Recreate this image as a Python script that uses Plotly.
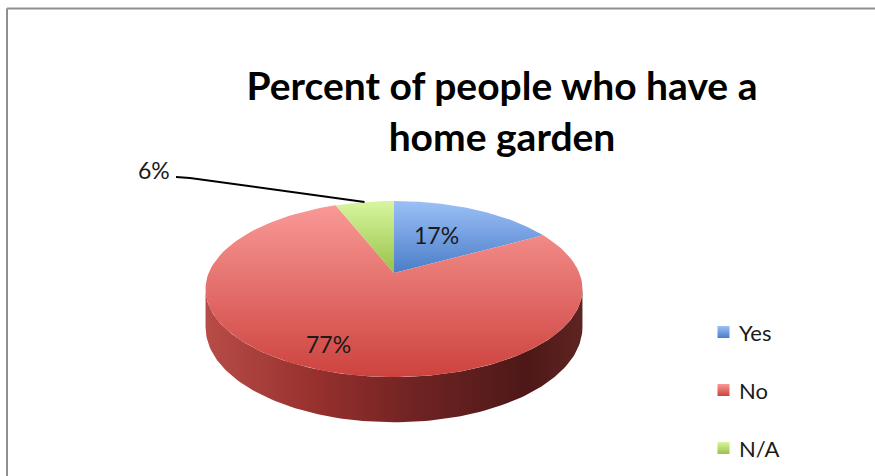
import math
import plotly.graph_objects as go

# Survey result
categories = ["Yes", "No", "N/A"]
percents = [17, 77, 6]

# Slice styling: vertical gradients for the top faces (light at top, deeper at bottom)
top_colors = {
    "Yes": ("#9cc0f6", "#4a7dc9"),
    "No": ("#f99996", "#cd423e"),
    "N/A": ("#d8f6a0", "#98c248"),
}
side_scale = [[0.0, "#b84c47"], [0.3, "#95302d"], [0.55, "#712323"],
              [0.85, "#4e1818"], [1.0, "#5e2420"]]

W, H = 875, 476
# Projected disc: centre, semi-axes, perspective factor and wall height
CX, CY = 394.0, 273.0
A, B, K = 185.3, 85.1, 0.182
DEPTH = 37.0


def proj(theta_deg, r=1.0, drop=0.0):
    """Map an angle (clockwise from the back of the disc) to screen coords."""
    t = math.radians(theta_deg)
    u, v = r * math.sin(t), r * math.cos(t)
    w = 1.0 + K * v
    return CX + A * u / w, CY - B * v / w + drop / w


def arc(a0, a1, drop=0.0, n=120):
    pts = [proj(a0 + (a1 - a0) * i / n, 1.0, drop) for i in range(n + 1)]
    return [p[0] for p in pts], [p[1] for p in pts]


fig = go.Figure()

# Visible outer wall (front half of the disc, between the silhouette points)
t_edge = math.degrees(math.acos(-K))
xs_top, ys_top = arc(t_edge, 360 - t_edge)
xs_bot, ys_bot = arc(360 - t_edge, t_edge, DEPTH)
side_x = xs_top + xs_bot + [xs_top[0]]
side_y = ys_top + ys_bot + [ys_top[0]]
fig.add_trace(go.Scatter(
    x=side_x, y=side_y, mode="lines", fill="toself", line=dict(width=0),
    fillgradient=dict(type="horizontal", colorscale=side_scale,
                      start=min(side_x), stop=max(side_x)),
    hoverinfo="skip", showlegend=False))

# Top faces of the slices, starting at 12 o'clock and running clockwise
start = 0.0
slice_angles = {}
for cat, pct in zip(categories, percents):
    a0 = start
    a1 = start + pct * 3.6
    if cat == "N/A":
        a0, a1 = a0 - 360, a1 - 360
    slice_angles[cat] = (a0, a1)
    ax, ay = arc(a0, a1)
    px = [CX] + ax + [CX]
    py = [CY] + ay + [CY]
    c_top, c_bot = top_colors[cat]
    fig.add_trace(go.Scatter(
        x=px, y=py, mode="lines", fill="toself", line=dict(width=0),
        fillgradient=dict(type="vertical",
                          colorscale=[[0, c_top], [1, c_bot]],
                          start=min(py), stop=max(py)),
        name=cat, hoverinfo="skip", showlegend=False))
    start += pct * 3.6

# Percentage labels
label_font = dict(family="Lato", size=23, color="#1a1a1a")
label_pos = {"Yes": (436, 235), "No": (328, 344), "N/A": (154, 170)}
for cat, pct in zip(categories, percents):
    lx, ly = label_pos[cat]
    fig.add_annotation(x=lx, y=ly, text=f"{pct}%", showarrow=False,
                       font=label_font, xanchor="center", yanchor="middle")

# Leader line from the small slice to its label
na0, na1 = slice_angles["N/A"]
ex, ey = proj((na0 + na1) / 2)
fig.add_trace(go.Scatter(
    x=[176, 190, ex], y=[177, 178, ey], mode="lines",
    line=dict(color="black", width=2), hoverinfo="skip", showlegend=False))

# Legend
leg_y = [332, 390, 448]
for cat, yy in zip(categories, leg_y):
    c_top, c_bot = top_colors[cat]
    fig.add_trace(go.Scatter(
        x=[723.5], y=[yy], mode="markers",
        marker=dict(symbol="square", size=12, color=c_top,
                    gradient=dict(type="vertical", color=c_bot),
                    line=dict(width=0)),
        hoverinfo="skip", showlegend=False))
    fig.add_annotation(x=737, y=yy, text=cat, showarrow=False,
                       font=dict(family="Lato", size=22, color="#1a1a1a"),
                       xanchor="left", yanchor="middle")

# Chart frame (top and left edges; the rest runs off the page)
frame = dict(color="#8f8f8f", width=2)
fig.add_shape(type="line", xref="paper", yref="paper",
              x0=7 / W, x1=1.05, y0=1 - 8.5 / H, y1=1 - 8.5 / H, line=frame)
fig.add_shape(type="line", xref="paper", yref="paper",
              x0=7 / W, x1=7 / W, y0=-0.05, y1=1 - 8.5 / H, line=frame)

fig.update_layout(
    width=W, height=H, autosize=False,
    margin=dict(l=0, r=0, t=0, b=0),
    paper_bgcolor="white", plot_bgcolor="white",
    title=dict(text="<b>Percent of people who have a<br>home garden</b>",
               x=502 / W, xanchor="center", y=1 - 100 / H, yanchor="top",
               yref="container",
               font=dict(family="Lato", size=39, color="black")),
    xaxis=dict(range=[0, W], visible=False, fixedrange=True),
    yaxis=dict(range=[H, 0], visible=False, fixedrange=True),
    showlegend=False,
)

fig.write_html("out.html", config={"displayModeBar": False})
